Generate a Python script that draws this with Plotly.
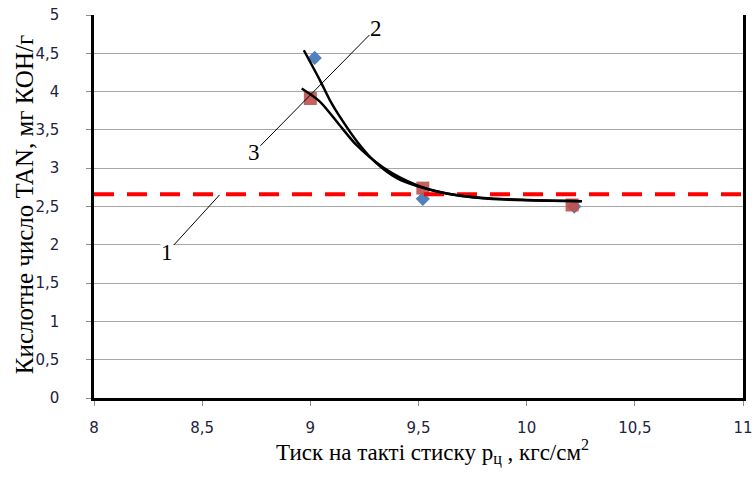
import plotly.graph_objects as go

# Measured points
blue_x = [9.02, 9.52, 10.22]
blue_y = [4.44, 2.60, 2.50]
red_x = [9.00, 9.52, 10.21]
red_y = [3.91, 2.74, 2.52]

# Trend curve 2 (steeper branch)
curve2_x = [8.97, 9.044, 9.09, 9.137, 9.221, 9.30, 9.40, 9.50, 9.63, 9.80, 10.0, 10.25]
curve2_y = [4.54, 4.15, 3.89, 3.67, 3.33, 3.08, 2.87, 2.76, 2.67, 2.61, 2.585, 2.57]

# Trend curve 3 (flatter branch)
curve3_x = [8.96, 9.044, 9.13, 9.214, 9.337, 9.492, 9.631, 9.785, 10.0, 10.256]
curve3_y = [4.04, 3.87, 3.58, 3.30, 3.01, 2.78, 2.67, 2.61, 2.58, 2.57]

# Limit level (line 1)
limit_x = [8.0, 11.0]
limit_y = [2.66, 2.66]

x_ticks = [8, 8.5, 9, 9.5, 10, 10.5, 11]
y_ticks = [0, 0.5, 1, 1.5, 2, 2.5, 3, 3.5, 4, 4.5, 5]

x_title = "Тиск на такті стиску р<sub>ц</sub> , кгс/см<sup>2</sup>"
y_title = "Кислотне число TAN, мг КОН/г"

serif = "Liberation Serif, Times New Roman, serif"
tick_font = dict(family="DejaVu Sans, sans-serif", size=15, color="#1e2340")

fig = go.Figure()

fig.add_trace(go.Scatter(
    x=blue_x, y=blue_y, mode="markers",
    marker=dict(symbol="diamond", size=11, color="#4F81BD"),
    showlegend=False, hoverinfo="skip"))
fig.add_trace(go.Scatter(
    x=red_x, y=red_y, mode="markers",
    marker=dict(symbol="square", size=13, color="#C0504D", opacity=0.9),
    showlegend=False, hoverinfo="skip"))
fig.add_trace(go.Scatter(
    x=limit_x, y=limit_y, mode="lines",
    line=dict(color="#FF0000", width=4, dash="20px,13px"),
    showlegend=False, hoverinfo="skip"))
fig.add_trace(go.Scatter(
    x=curve2_x, y=curve2_y, mode="lines",
    line=dict(color="black", width=2.5, shape="spline", smoothing=0.8),
    showlegend=False, hoverinfo="skip"))
fig.add_trace(go.Scatter(
    x=curve3_x, y=curve3_y, mode="lines",
    line=dict(color="black", width=2.5, shape="spline", smoothing=0.8),
    showlegend=False, hoverinfo="skip"))

label_font = dict(family=serif, size=23, color="black")
leader = dict(showarrow=True, arrowhead=0, arrowwidth=1, arrowcolor="black",
              xref="x", yref="y", font=label_font, bgcolor="white", borderpad=0)

annotations = [
    dict(text="1", x=8.58, y=2.65, ax=-52, ay=57, **leader),
    dict(text="2", x=9.012, y=3.99, ax=63, ay=-64, **leader),
    dict(text="3", x=9.012, y=3.99, ax=-59, ay=60, **leader),
    dict(text=x_title, xref="paper", yref="paper", x=0.522, y=-0.142,
         xanchor="center", yanchor="middle", showarrow=False,
         font=dict(family=serif, size=23, color="black")),
    dict(text=y_title, xref="paper", yref="paper", x=-0.107, y=0.505,
         xanchor="center", yanchor="middle", showarrow=False, textangle=-90,
         font=dict(family=serif, size=25, color="black")),
]

fig.update_layout(
    width=756, height=479,
    margin=dict(l=94, r=13, t=15, b=81),
    paper_bgcolor="white", plot_bgcolor="white",
    separators=", ",
    annotations=annotations,
    xaxis=dict(
        range=[8, 11], tickvals=x_ticks, showgrid=False, zeroline=False,
        automargin=False,
        showline=True, linecolor="black", linewidth=2.5,
        ticks="outside", ticklen=5, tickcolor="#8c8c8c", tickwidth=1,
        ticklabelstandoff=9, tickfont=tick_font,
    ),
    yaxis=dict(
        range=[0, 5], tickvals=y_ticks, showgrid=True, gridcolor="#a6a6a6", gridwidth=1.3,
        zeroline=False, automargin=False,
        showline=True, linecolor="black", linewidth=2.5, mirror=True,
        ticks="outside", ticklen=5, tickcolor="#8c8c8c", tickwidth=1,
        ticklabelstandoff=24, tickfont=tick_font,
    ),
)

fig.write_html("out.html")
